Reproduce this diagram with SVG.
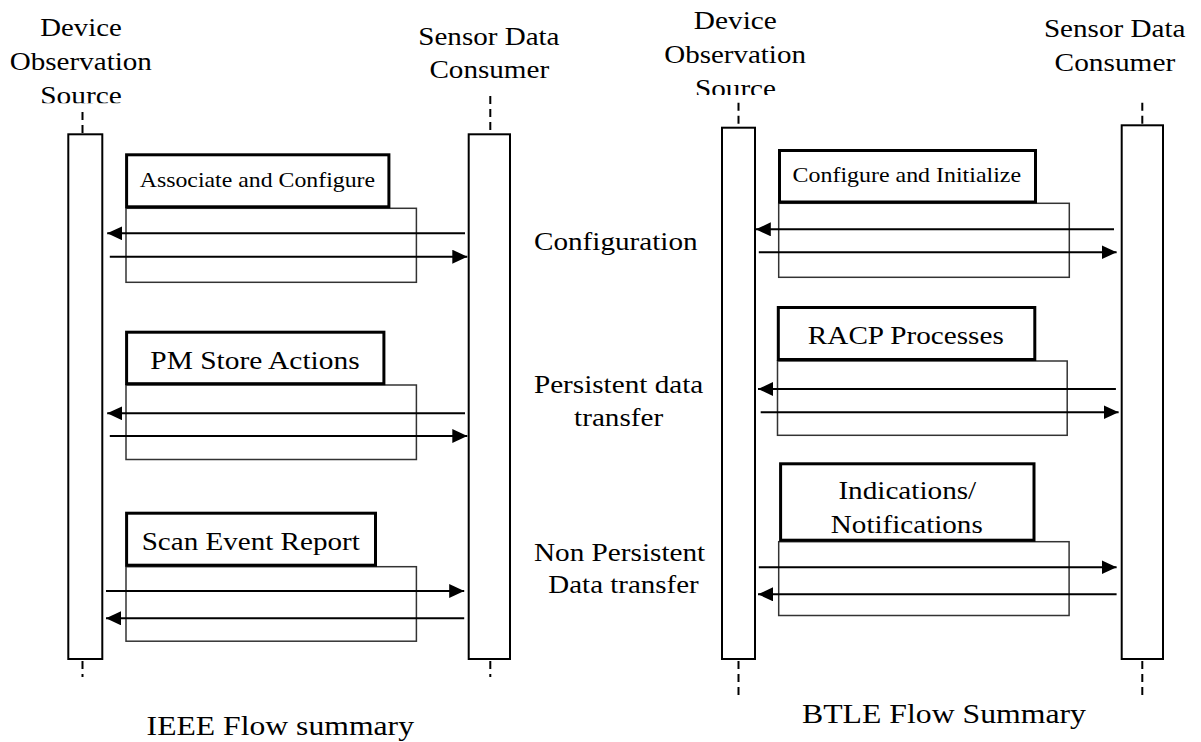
<svg xmlns="http://www.w3.org/2000/svg" width="1201" height="742" viewBox="0 0 1201 742">
<style>
text{fill:#000}
.t25{font-size:25px}
.t21{font-size:21px}
.t27{font-size:27.5px}
.life{fill:#fff;stroke:#000;stroke-width:2}
.dash{stroke:#000;stroke-width:2;stroke-dasharray:8 5;fill:none}
.thick{fill:#fff;stroke:#000;stroke-width:3}
.thin{fill:none;stroke:#333;stroke-width:1.5}
.msg{stroke:#000;stroke-width:2;fill:none;marker-end:url(#ah)}
</style>
<defs>
<marker id="ah" markerUnits="userSpaceOnUse" markerWidth="16" markerHeight="15" refX="15" refY="7" orient="auto">
<path d="M0,0 L15,7 L0,14 z" fill="#000"/>
</marker>
<clipPath id="clipL"><rect x="0" y="0" width="200" height="103.3"/></clipPath>
<clipPath id="clipR"><rect x="600" y="0" width="250" height="95"/></clipPath>
</defs>
<g font-family="Liberation Serif, Tinos, Times New Roman, Times, serif">
<g id="ieee-device">
<line class="dash" x1="82.5" y1="112" x2="82.5" y2="133"/>
<line class="dash" x1="82.5" y1="661" x2="82.5" y2="677"/>
<rect class="life" x="68.3" y="134.3" width="34" height="524.7"/>
<g clip-path="url(#clipL)">
<text class="t25" x="81" y="35.7" text-anchor="middle" textLength="81.5" lengthAdjust="spacingAndGlyphs">Device</text>
<text class="t25" x="80.8" y="70" text-anchor="middle" textLength="142.3" lengthAdjust="spacingAndGlyphs">Observation</text>
<text class="t25" x="81" y="104.3" text-anchor="middle" textLength="81.5" lengthAdjust="spacingAndGlyphs">Source</text>
</g>
</g>

<g id="ieee-consumer">
<line class="dash" x1="490.3" y1="96" x2="490.3" y2="133"/>
<line class="dash" x1="490.3" y1="661" x2="490.3" y2="677"/>
<rect class="life" x="468.7" y="134.3" width="41.3" height="524.7"/>
<text class="t25" x="488.9" y="45" text-anchor="middle" textLength="141.2" lengthAdjust="spacingAndGlyphs">Sensor Data</text>
<text class="t25" x="489.3" y="78.3" text-anchor="middle" textLength="119.8" lengthAdjust="spacingAndGlyphs">Consumer</text>
</g>

<g id="btle-device">
<line class="dash" x1="738.5" y1="102.7" x2="738.5" y2="127"/>
<line class="dash" x1="738.5" y1="661" x2="738.5" y2="697"/>
<rect class="life" x="722" y="127.7" width="33" height="531.3"/>
<g clip-path="url(#clipR)">
<text class="t25" x="735.3" y="29.3" text-anchor="middle" textLength="83" lengthAdjust="spacingAndGlyphs">Device</text>
<text class="t25" x="735.1" y="63.3" text-anchor="middle" textLength="141.6" lengthAdjust="spacingAndGlyphs">Observation</text>
<text class="t25" x="735.5" y="96.8" text-anchor="middle" textLength="81" lengthAdjust="spacingAndGlyphs">Source</text>
</g>
</g>

<g id="btle-consumer">
<line class="dash" x1="1142.3" y1="102.7" x2="1142.3" y2="124"/>
<line class="dash" x1="1142.3" y1="661" x2="1142.3" y2="697"/>
<rect class="life" x="1121.7" y="125.3" width="41.3" height="533.7"/>
<text class="t25" x="1114.7" y="37.3" text-anchor="middle" textLength="141.6" lengthAdjust="spacingAndGlyphs">Sensor Data</text>
<text class="t25" x="1114.9" y="70.7" text-anchor="middle" textLength="120.6" lengthAdjust="spacingAndGlyphs">Consumer</text>
</g>

<g id="ieee-associate">
<rect class="thin" x="126" y="208.3" width="290.4" height="74"/>
<rect class="thick" x="126.6" y="154.8" width="262.3" height="52"/>
<text class="t21" x="257.4" y="186.7" text-anchor="middle" textLength="235.3" lengthAdjust="spacingAndGlyphs">Associate and Configure</text>
</g>

<g id="ieee-pmstore">
<rect class="thin" x="126" y="385" width="290.4" height="74.5"/>
<rect class="thick" x="126.6" y="332.2" width="257.3" height="51.5"/>
<text class="t25" x="255" y="369" text-anchor="middle" textLength="209.3" lengthAdjust="spacingAndGlyphs">PM Store Actions</text>
</g>

<g id="ieee-scan">
<rect class="thin" x="126" y="566.7" width="290.4" height="74.5"/>
<rect class="thick" x="126.6" y="513.2" width="248.9" height="52"/>
<text class="t25" x="250.7" y="550" text-anchor="middle" textLength="218.1" lengthAdjust="spacingAndGlyphs">Scan Event Report</text>
</g>

<g id="btle-config">
<rect class="thin" x="778.7" y="203.3" width="290.6" height="74"/>
<rect class="thick" x="779.5" y="150.5" width="256" height="51.5"/>
<text class="t21" x="906.8" y="181.7" text-anchor="middle" textLength="228.5" lengthAdjust="spacingAndGlyphs">Configure and Initialize</text>
</g>

<g id="btle-racp">
<rect class="thin" x="777.5" y="361" width="289.7" height="74.3"/>
<rect class="thick" x="778.3" y="307.5" width="256.5" height="52"/>
<text class="t25" x="905.8" y="344.3" text-anchor="middle" textLength="195.9" lengthAdjust="spacingAndGlyphs">RACP Processes</text>
</g>

<g id="btle-indications">
<rect class="thin" x="778.7" y="541.7" width="290.4" height="73.8"/>
<rect class="thick" x="780.6" y="463.8" width="253.4" height="76.4"/>
<text class="t25" x="907.3" y="499.3" text-anchor="middle" textLength="137.8" lengthAdjust="spacingAndGlyphs">Indications/</text>
<text class="t25" x="906.8" y="533.3" text-anchor="middle" textLength="151.9" lengthAdjust="spacingAndGlyphs">Notifications</text>
</g>

<g id="connectors">
<line class="msg" x1="465" y1="233.3" x2="107.2" y2="233.3"/>
<line class="msg" x1="109.8" y1="256.7" x2="467.3" y2="256.7"/>
<line class="msg" x1="465" y1="413.3" x2="107.2" y2="413.3"/>
<line class="msg" x1="109.8" y1="436" x2="467.3" y2="436"/>
<line class="msg" x1="106" y1="591" x2="464.2" y2="591"/>
<line class="msg" x1="464.2" y1="618.3" x2="106" y2="618.3"/>
<line class="msg" x1="1114" y1="229.3" x2="755.8" y2="229.3"/>
<line class="msg" x1="758.8" y1="252.3" x2="1116.6" y2="252.3"/>
<line class="msg" x1="1115.9" y1="389" x2="758" y2="389"/>
<line class="msg" x1="760.7" y1="412.3" x2="1118.6" y2="412.3"/>
<line class="msg" x1="758.8" y1="567.3" x2="1116.6" y2="567.3"/>
<line class="msg" x1="1116.6" y1="594.3" x2="758" y2="594.3"/>
</g>

<g id="phase-labels">
<text class="t25" x="615.8" y="250" text-anchor="middle" textLength="163.6" lengthAdjust="spacingAndGlyphs">Configuration</text>
<text class="t25" x="618.6" y="392.7" text-anchor="middle" textLength="169.3" lengthAdjust="spacingAndGlyphs">Persistent data</text>
<text class="t25" x="618.6" y="426" text-anchor="middle" textLength="89" lengthAdjust="spacingAndGlyphs">transfer</text>
<text class="t25" x="619.6" y="560.5" text-anchor="middle" textLength="171.3" lengthAdjust="spacingAndGlyphs">Non Persistent</text>
<text class="t25" x="623.5" y="593" text-anchor="middle" textLength="150.3" lengthAdjust="spacingAndGlyphs">Data transfer</text>
</g>

<g id="captions">
<text class="t27" x="280.3" y="735" text-anchor="middle" textLength="267.4" lengthAdjust="spacingAndGlyphs">IEEE Flow summary</text>
<text class="t27" x="944" y="723.3" text-anchor="middle" textLength="284" lengthAdjust="spacingAndGlyphs">BTLE Flow Summary</text>
</g>
</g>
</svg>
